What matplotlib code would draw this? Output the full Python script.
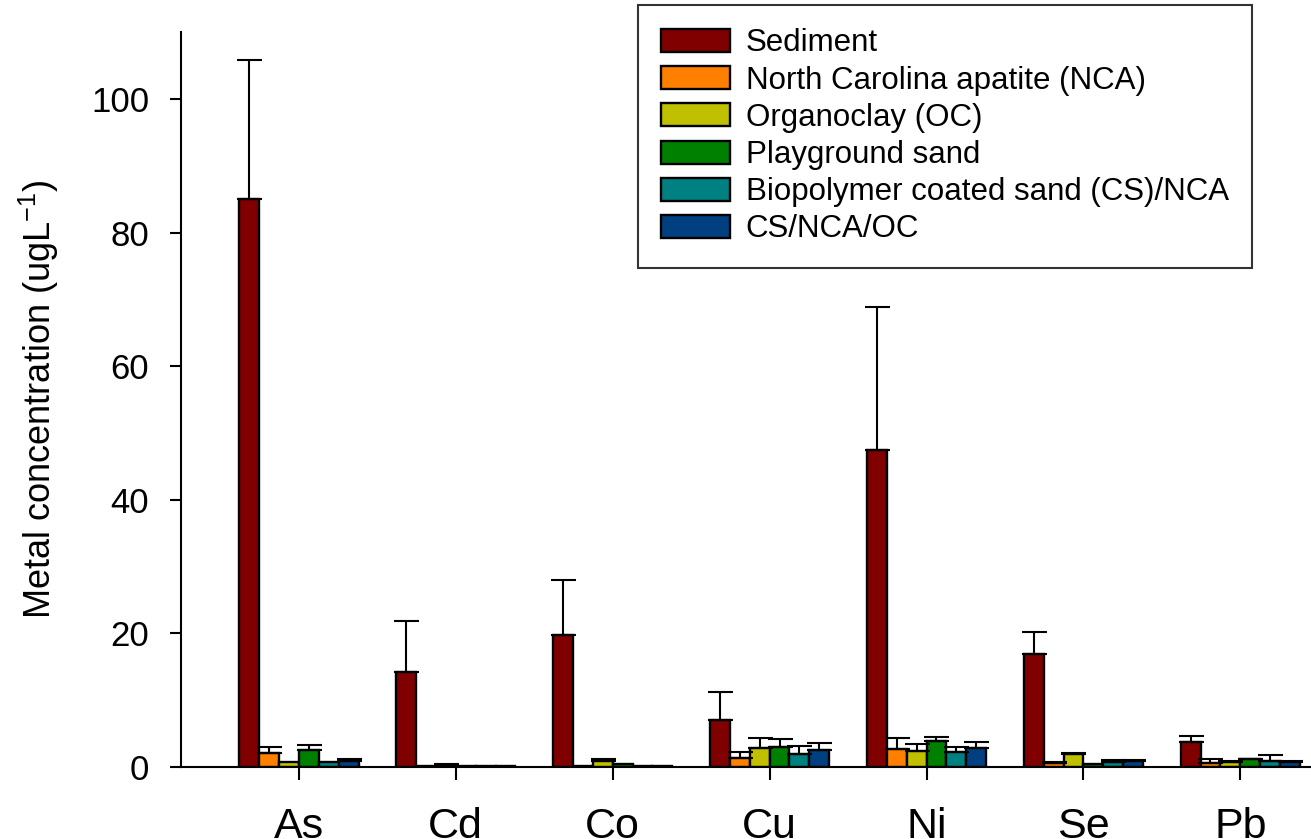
import numpy as np
import matplotlib
matplotlib.use("Agg")
import matplotlib.pyplot as plt

plt.rcParams['font.family'] = ['Liberation Sans', 'DejaVu Sans']
plt.rcParams['mathtext.fontset'] = 'custom'
plt.rcParams['mathtext.rm'] = 'Liberation Sans'
plt.rcParams['mathtext.it'] = 'Liberation Sans'

# 数据
metals = ['As', 'Cd', 'Co', 'Cu', 'Ni', 'Se', 'Pb']
series = ['Sediment', 'North Carolina apatite (NCA)', 'Organoclay (OC)',
          'Playground sand', 'Biopolymer coated sand (CS)/NCA', 'CS/NCA/OC']
colors = ['#800000', '#FF8000', '#C0C000', '#008000', '#008080', '#004080']

sediment = [85.0, 14.2, 19.8, 7.1, 47.5, 16.9, 3.7]
nca      = [2.1, 0.2, 0.2, 1.3, 2.7, 0.55, 0.55]
oc       = [0.8, 0.3, 0.9, 2.8, 2.45, 1.95, 0.8]
sand     = [2.6, 0.2, 0.4, 3.0, 3.9, 0.45, 1.15]
cs_nca   = [0.7, 0.1, 0.2, 1.95, 2.3, 0.8, 0.9]
cs_nca_oc = [0.9, 0.1, 0.1, 2.5, 2.9, 0.9, 0.7]

sediment_err = [20.8, 7.7, 8.2, 4.1, 21.4, 3.3, 1.0]
nca_err      = [0.9, 0.0, 0.0, 1.0, 1.6, 0.25, 0.7]
oc_err       = [0.0, 0.2, 0.25, 1.6, 1.05, 0.1, 0.1]
sand_err     = [0.7, 0.0, 0.0, 1.2, 0.6, 0.0, 0.1]
cs_nca_err   = [0.0, 0.0, 0.0, 1.15, 0.7, 0.2, 0.95]
cs_nca_oc_err = [0.25, 0.0, 0.0, 1.1, 0.9, 0.1, 0.15]

values = [sediment, nca, oc, sand, cs_nca, cs_nca_oc]
errors = [sediment_err, nca_err, oc_err, sand_err, cs_nca_err, cs_nca_oc_err]

fig = plt.figure(figsize=(13.11, 8.39), dpi=100)
ax = fig.add_axes([0.1381, 0.0858, 0.8619, 0.8758])

x = np.arange(len(metals))
w = 0.127
for i, (vals, errs) in enumerate(zip(values, errors)):
    pos = x + (i - 2.5) * w
    ax.bar(pos, vals, w, color=colors[i], edgecolor='black', linewidth=1.7,
           label=series[i], zorder=2)
    errs = np.array(errs)
    m = errs > 0
    ax.errorbar(pos[m], np.array(vals)[m], yerr=[np.zeros(m.sum()), errs[m]],
                fmt='none', ecolor='black', elinewidth=1.5, capsize=9,
                capthick=1.5, zorder=3)

ax.set_xlim(-0.75, 6.45)
ax.set_ylim(0, 110)
ax.set_yticks([0, 20, 40, 60, 80, 100])
ax.set_xticks(x)
ax.set_xticklabels(metals)
ax.tick_params(axis='y', labelsize=25, length=8, width=1.5, pad=15, direction='out')
ax.tick_params(axis='x', labelsize=31, length=9, width=1.5, pad=20, direction='out')
ax.spines['top'].set_visible(False)
ax.spines['right'].set_visible(False)
ax.spines['left'].set_linewidth(1.5)
ax.spines['bottom'].set_linewidth(1.5)
ax.set_ylabel(r'Metal concentration (ugL$^{-1}$)', fontsize=26)
ax.yaxis.set_label_coords(-0.106, 0.5)

leg = ax.legend(loc='upper left', bbox_to_anchor=(638 / 1311, 1 - 5 / 839),
                bbox_transform=fig.transFigure, borderaxespad=0, fontsize=22.5,
                frameon=True, fancybox=False, edgecolor='black',
                handlelength=2.2, handleheight=0.75, handletextpad=0.5,
                labelspacing=0.23, borderpad=0.75)
leg.get_frame().set_linewidth(1.5)

fig.savefig('out.png', dpi=100)
